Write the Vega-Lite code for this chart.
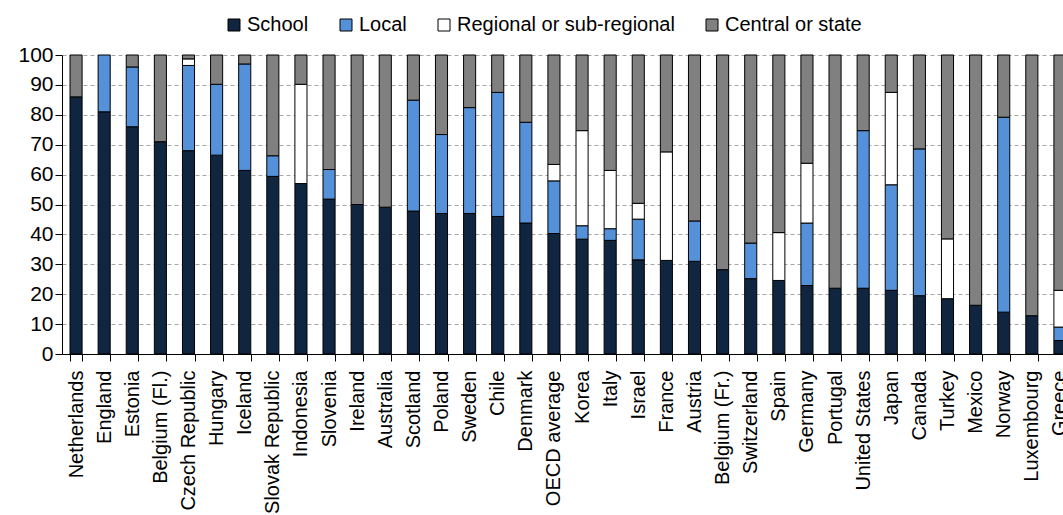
{
  "$schema": "https://vega.github.io/schema/vega-lite/v6.json",
  "autosize": "none",
  "padding": {"left": 62, "top": 55, "right": 0, "bottom": 161},
  "width": 1001,
  "height": 299,
  "data": {"values": [
    {"country": "Netherlands", "level": "School", "value": 86},
    {"country": "Netherlands", "level": "Central or state", "value": 14},
    {"country": "England", "level": "School", "value": 81},
    {"country": "England", "level": "Local", "value": 19},
    {"country": "Estonia", "level": "School", "value": 76},
    {"country": "Estonia", "level": "Local", "value": 20},
    {"country": "Estonia", "level": "Central or state", "value": 4},
    {"country": "Belgium (Fl.)", "level": "School", "value": 71},
    {"country": "Belgium (Fl.)", "level": "Central or state", "value": 29},
    {"country": "Czech Republic", "level": "School", "value": 68},
    {"country": "Czech Republic", "level": "Local", "value": 28.5},
    {"country": "Czech Republic", "level": "Regional or sub-regional", "value": 2.2},
    {"country": "Czech Republic", "level": "Central or state", "value": 1.3},
    {"country": "Hungary", "level": "School", "value": 66.5},
    {"country": "Hungary", "level": "Local", "value": 23.7},
    {"country": "Hungary", "level": "Central or state", "value": 9.8},
    {"country": "Iceland", "level": "School", "value": 61.4},
    {"country": "Iceland", "level": "Local", "value": 35.6},
    {"country": "Iceland", "level": "Central or state", "value": 3},
    {"country": "Slovak Republic", "level": "School", "value": 59.4},
    {"country": "Slovak Republic", "level": "Local", "value": 6.9},
    {"country": "Slovak Republic", "level": "Central or state", "value": 33.7},
    {"country": "Indonesia", "level": "School", "value": 57},
    {"country": "Indonesia", "level": "Regional or sub-regional", "value": 33.2},
    {"country": "Indonesia", "level": "Central or state", "value": 9.8},
    {"country": "Slovenia", "level": "School", "value": 51.8},
    {"country": "Slovenia", "level": "Local", "value": 9.9},
    {"country": "Slovenia", "level": "Central or state", "value": 38.3},
    {"country": "Ireland", "level": "School", "value": 50},
    {"country": "Ireland", "level": "Central or state", "value": 50},
    {"country": "Australia", "level": "School", "value": 49.1},
    {"country": "Australia", "level": "Central or state", "value": 50.9},
    {"country": "Scotland", "level": "School", "value": 47.8},
    {"country": "Scotland", "level": "Local", "value": 37.1},
    {"country": "Scotland", "level": "Central or state", "value": 15.1},
    {"country": "Poland", "level": "School", "value": 47},
    {"country": "Poland", "level": "Local", "value": 26.4},
    {"country": "Poland", "level": "Central or state", "value": 26.6},
    {"country": "Sweden", "level": "School", "value": 47},
    {"country": "Sweden", "level": "Local", "value": 35.4},
    {"country": "Sweden", "level": "Central or state", "value": 17.6},
    {"country": "Chile", "level": "School", "value": 46},
    {"country": "Chile", "level": "Local", "value": 41.5},
    {"country": "Chile", "level": "Central or state", "value": 12.5},
    {"country": "Denmark", "level": "School", "value": 43.8},
    {"country": "Denmark", "level": "Local", "value": 33.7},
    {"country": "Denmark", "level": "Central or state", "value": 22.5},
    {"country": "OECD average", "level": "School", "value": 40.3},
    {"country": "OECD average", "level": "Local", "value": 17.6},
    {"country": "OECD average", "level": "Regional or sub-regional", "value": 5.5},
    {"country": "OECD average", "level": "Central or state", "value": 36.6},
    {"country": "Korea", "level": "School", "value": 38.4},
    {"country": "Korea", "level": "Local", "value": 4.5},
    {"country": "Korea", "level": "Regional or sub-regional", "value": 31.8},
    {"country": "Korea", "level": "Central or state", "value": 25.3},
    {"country": "Italy", "level": "School", "value": 38},
    {"country": "Italy", "level": "Local", "value": 3.9},
    {"country": "Italy", "level": "Regional or sub-regional", "value": 19.5},
    {"country": "Italy", "level": "Central or state", "value": 38.6},
    {"country": "Israel", "level": "School", "value": 31.5},
    {"country": "Israel", "level": "Local", "value": 13.6},
    {"country": "Israel", "level": "Regional or sub-regional", "value": 5.3},
    {"country": "Israel", "level": "Central or state", "value": 49.6},
    {"country": "France", "level": "School", "value": 31.3},
    {"country": "France", "level": "Regional or sub-regional", "value": 36.3},
    {"country": "France", "level": "Central or state", "value": 32.4},
    {"country": "Austria", "level": "School", "value": 31},
    {"country": "Austria", "level": "Local", "value": 13.5},
    {"country": "Austria", "level": "Central or state", "value": 55.5},
    {"country": "Belgium (Fr.)", "level": "School", "value": 28.2},
    {"country": "Belgium (Fr.)", "level": "Central or state", "value": 71.8},
    {"country": "Switzerland", "level": "School", "value": 25.2},
    {"country": "Switzerland", "level": "Local", "value": 11.9},
    {"country": "Switzerland", "level": "Central or state", "value": 62.9},
    {"country": "Spain", "level": "School", "value": 24.6},
    {"country": "Spain", "level": "Regional or sub-regional", "value": 16},
    {"country": "Spain", "level": "Central or state", "value": 59.4},
    {"country": "Germany", "level": "School", "value": 22.9},
    {"country": "Germany", "level": "Local", "value": 20.9},
    {"country": "Germany", "level": "Regional or sub-regional", "value": 20},
    {"country": "Germany", "level": "Central or state", "value": 36.2},
    {"country": "Portugal", "level": "School", "value": 22},
    {"country": "Portugal", "level": "Central or state", "value": 78},
    {"country": "United States", "level": "School", "value": 22},
    {"country": "United States", "level": "Local", "value": 52.7},
    {"country": "United States", "level": "Central or state", "value": 25.3},
    {"country": "Japan", "level": "School", "value": 21.3},
    {"country": "Japan", "level": "Local", "value": 35.3},
    {"country": "Japan", "level": "Regional or sub-regional", "value": 30.9},
    {"country": "Japan", "level": "Central or state", "value": 12.5},
    {"country": "Canada", "level": "School", "value": 19.5},
    {"country": "Canada", "level": "Local", "value": 49.1},
    {"country": "Canada", "level": "Central or state", "value": 31.4},
    {"country": "Turkey", "level": "School", "value": 18.5},
    {"country": "Turkey", "level": "Regional or sub-regional", "value": 20},
    {"country": "Turkey", "level": "Central or state", "value": 61.5},
    {"country": "Mexico", "level": "School", "value": 16.3},
    {"country": "Mexico", "level": "Central or state", "value": 83.7},
    {"country": "Norway", "level": "School", "value": 14},
    {"country": "Norway", "level": "Local", "value": 65.2},
    {"country": "Norway", "level": "Central or state", "value": 20.8},
    {"country": "Luxembourg", "level": "School", "value": 12.8},
    {"country": "Luxembourg", "level": "Central or state", "value": 87.2},
    {"country": "Greece", "level": "School", "value": 4.5},
    {"country": "Greece", "level": "Local", "value": 4.5},
    {"country": "Greece", "level": "Regional or sub-regional", "value": 12.3},
    {"country": "Greece", "level": "Central or state", "value": 78.7}
  ]},
  "transform": [
    {"calculate": "indexof(['School', 'Local', 'Regional or sub-regional', 'Central or state'], datum.level)", "as": "stackOrder"}
  ],
  "mark": {"type": "bar", "stroke": "#000000", "strokeWidth": 1},
  "encoding": {
    "x": {
      "field": "country",
      "type": "nominal",
      "sort": null,
      "scale": {"range": [0, 1012], "paddingInner": 0.57, "paddingOuter": 0.285},
      "axis": {
        "title": null,
        "labelAngle": -90,
        "labelFont": "Liberation Sans",
        "labelFontSize": 20,
        "labelColor": "#000000",
        "labelPadding": 9,
        "labelOverlap": false,
        "labelLimit": 0,
        "tickBand": "extent",
        "tickSize": 7,
        "tickColor": "#000000",
        "domainColor": "#000000",
        "grid": false
      }
    },
    "y": {
      "field": "value",
      "type": "quantitative",
      "stack": "zero",
      "scale": {"domain": [0, 100], "nice": false},
      "axis": {
        "title": null,
        "values": [0, 10, 20, 30, 40, 50, 60, 70, 80, 90, 100],
        "labelFont": "Liberation Sans",
        "labelFontSize": 21,
        "labelColor": "#000000",
        "labelPadding": 2,
        "tickSize": 7,
        "tickColor": "#000000",
        "domainColor": "#000000",
        "grid": true,
        "gridColor": "#a6a6a6",
        "gridDash": [4, 3],
        "gridWidth": 1
      }
    },
    "order": {"field": "stackOrder", "type": "quantitative", "sort": "ascending"},
    "color": {
      "field": "level",
      "type": "nominal",
      "sort": ["School", "Local", "Regional or sub-regional", "Central or state"],
      "scale": {
        "domain": ["School", "Local", "Regional or sub-regional", "Central or state"],
        "range": ["#10253f", "#5591d9", "#ffffff", "#808080"]
      },
      "legend": {
        "title": null,
        "orient": "none",
        "direction": "horizontal",
        "legendX": 162,
        "legendY": -40,
        "symbolType": "square",
        "symbolSize": 144,
        "symbolStrokeColor": "#000000",
        "symbolStrokeWidth": 1,
        "symbolOpacity": 1,
        "labelFont": "Liberation Sans",
        "labelFontSize": 20,
        "labelColor": "#000000",
        "labelOffset": 3,
        "columnPadding": 27,
        "labelLimit": 0
      }
    }
  },
  "config": {"view": {"stroke": null}}
}
